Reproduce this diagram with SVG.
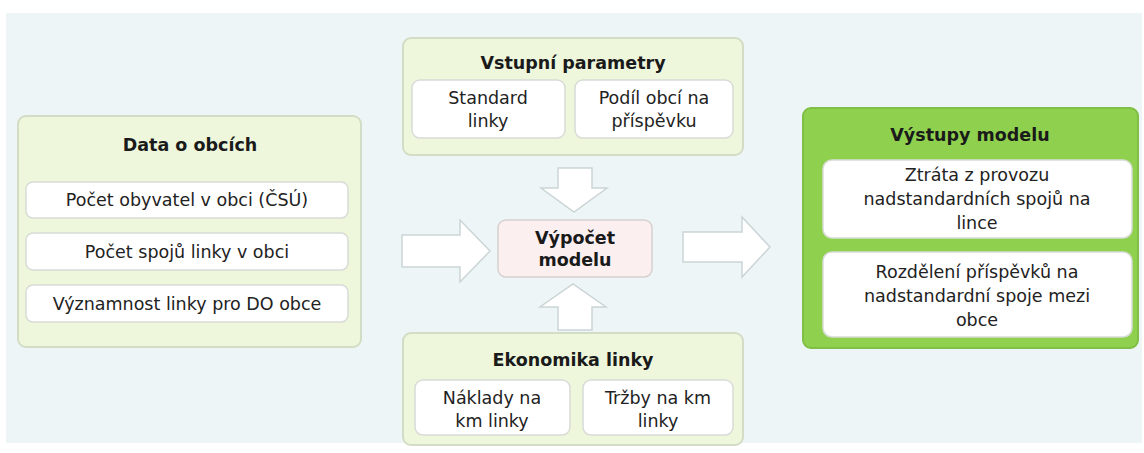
<svg xmlns="http://www.w3.org/2000/svg" width="1144" height="453" viewBox="0 0 1144 453">
<style>
text{font-family:"DejaVu Sans","Liberation Sans",sans-serif;font-size:17.5px;fill:#222;text-anchor:middle}
.t{font-weight:bold;font-size:17.5px;fill:#1a1a1a}
.panel{fill:#eef6dc;stroke:#d3dcc4;stroke-width:2}
.out{fill:#8fd14f;stroke:#7fbf45;stroke-width:2}
.inner{fill:#fff;stroke:#d8dcd6;stroke-width:1.5}
.arr{fill:#fff;stroke:#ccd5d6;stroke-width:1.5}
.core{fill:#fbeff0;stroke:#d6d0d0;stroke-width:1.5}
</style>
<rect x="0" y="0" width="1144" height="453" fill="#fff"/>
<rect x="6" y="13" width="1136" height="430" fill="#eef5f7"/>
<g id="data-o-obcich">
<rect class="panel" x="18" y="116" width="343" height="231" rx="8"/>
<text class="t" x="190" y="151">Data o obcích</text>
<rect class="inner" x="26" y="182" width="322" height="36" rx="7"/>
<text x="187" y="206">Počet obyvatel v obci (ČSÚ)</text>
<rect class="inner" x="26" y="233" width="322" height="37" rx="7"/>
<text x="187" y="258">Počet spojů linky v obci</text>
<rect class="inner" x="26" y="285" width="322" height="37" rx="7"/>
<text x="187" y="310">Významnost linky pro DO obce</text>
</g>
<g id="vstupni-parametry">
<rect class="panel" x="403" y="38" width="340" height="117" rx="8"/>
<text class="t" x="573" y="69">Vstupní parametry</text>
<rect class="inner" x="412" y="80" width="153" height="58" rx="8"/>
<text x="488" y="104">Standard</text>
<text x="488" y="127">linky</text>
<rect class="inner" x="575" y="80" width="158" height="58" rx="8"/>
<text x="654" y="104">Podíl obcí na</text>
<text x="654" y="127">příspěvku</text>
</g>
<g id="ekonomika-linky">
<rect class="panel" x="403" y="333" width="340" height="112" rx="8"/>
<text class="t" x="573" y="366">Ekonomika linky</text>
<rect class="inner" x="415" y="380" width="155" height="55" rx="8"/>
<text x="492" y="404">Náklady na</text>
<text x="492" y="427">km linky</text>
<rect class="inner" x="583" y="380" width="150" height="55" rx="8"/>
<text x="658" y="404">Tržby na km</text>
<text x="658" y="427">linky</text>
</g>
<g id="vypocet-modelu">
<rect class="core" x="498" y="220" width="154" height="57" rx="8"/>
<text class="t" x="575" y="244">Výpočet</text>
<text class="t" x="575" y="266">modelu</text>
</g>
<g id="vystupy-modelu">
<rect class="out" x="803" y="108" width="335" height="240" rx="8"/>
<text class="t" x="970" y="141">Výstupy modelu</text>
<rect class="inner" x="823" y="160" width="309" height="78" rx="9"/>
<text x="977" y="181">Ztráta z provozu</text>
<text x="977" y="205">nadstandardních spojů na</text>
<text x="977" y="229">lince</text>
<rect class="inner" x="823" y="252" width="309" height="85" rx="9"/>
<text x="977" y="278">Rozdělení příspěvků na</text>
<text x="977" y="302">nadstandardní spoje mezi</text>
<text x="977" y="326">obce</text>
</g>
<g id="connectors">
<polygon class="arr" points="402,235 460,235 460,220 490,251 460,282 460,267 402,267"/>
<polygon class="arr" points="683,232 742,232 742,217 770,247 742,277 742,262 683,262"/>
<polygon class="arr" points="558,168 592,168 592,188 607,188 574,212 541,188 558,188"/>
<polygon class="arr" points="558,330 592,330 592,307 606,307 573,284 540,307 558,307"/>
</g>
</svg>
